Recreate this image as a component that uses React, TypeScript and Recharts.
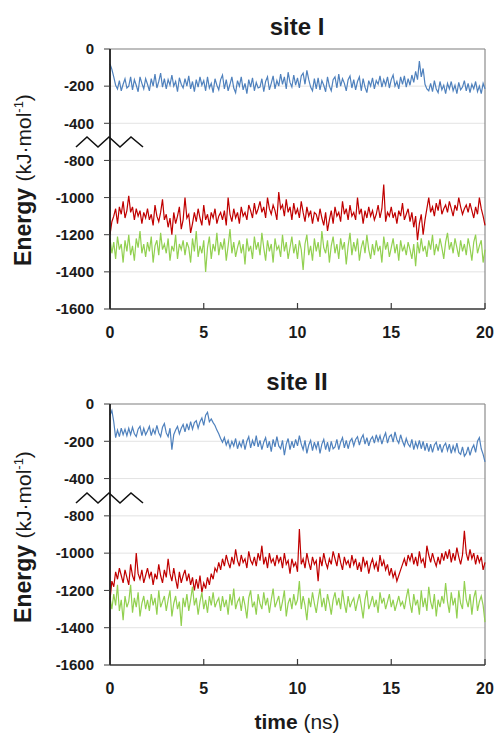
import { LineChart, Line, XAxis, YAxis, CartesianGrid, ReferenceLine } from 'recharts';

// sampling grid, 0.1 ns steps over 20 ns
const time = Array.from({ length: 201 }, (_, i) => i / 10);

const xTicks = [0, 5, 10, 15, 20];
// evenly spaced positions on the broken axis (-600 is cut out)
const yTicks = [0, -200, -400, -600, -800, -1000, -1200, -1400];

// site I
const site1Blue = [
  -80, -110, -150, -195, -215, -170, -225, -190, -160, -210,
  -200, -150, -220, -165, -195, -230, -150, -185, -215, -160,
  -190, -225, -160, -200, -135, -210, -175, -130, -205, -160,
  -215, -165, -195, -140, -200, -175, -230, -155, -190, -210,
  -160, -200, -145, -215, -175, -230, -165, -205, -150, -195,
  -170, -225, -150, -210, -185, -235, -160, -195, -220, -165,
  -140, -215, -165, -225, -190, -150, -210, -235, -170, -200,
  -150, -220, -185, -240, -165, -205, -155, -225, -180, -210,
  -205, -160, -230, -175, -150, -220, -185, -145, -215, -170,
  -200, -135, -190, -150, -215, -125, -180, -205, -140, -195,
  -155, -210, -145, -130, -190, -115, -165, -205, -225, -160,
  -215, -155, -220, -170, -195, -230, -150, -200, -225, -165,
  -150, -210, -135, -200, -160, -185, -225, -165, -145, -210,
  -165, -220, -175, -150, -225, -160, -205, -235, -170, -200,
  -155, -215, -170, -190, -145, -205, -165, -195, -150, -210,
  -165, -140, -200, -175, -215, -150, -190, -145, -205, -160,
  -195, -140, -180, -120, -165, -65, -150, -105, -190, -215,
  -225, -185, -230, -170, -215, -235, -175, -220, -195, -240,
  -185, -215, -175, -225, -195, -240, -180, -220, -205, -170,
  -225, -185, -235, -190, -215, -175, -230, -200, -240, -185,
  -215,
];

const site1Red = [
  -1200, -1130, -1100, -1060, -1140, -1050, -1090, -1020, -1110, -1070,
  -990, -1080, -1050, -1120, -1060, -1100, -1070, -1140, -1080, -1110,
  -1060, -1120, -1090, -1150, -1040, -1100, -1130, -1080, -1010, -1120,
  -1090, -1160, -1110, -1200, -1080, -1140, -1100, -1050, -1170, -1120,
  -1000, -1110, -1090, -1190, -1140, -1080, -1130, -1060, -1110, -1150,
  -1040, -1120, -1090, -1150, -1080, -1110, -1060, -1140, -1100, -1080,
  -1120, -1070, -1150, -1000, -1090, -1130, -1060, -1110, -1080, -1140,
  -1050, -1100, -1080, -1120, -1040, -1070, -1110, -1030, -1090, -1060,
  -1020, -1080, -1050, -1110, -1000, -1060, -1090, -1040, -1070, -1120,
  -970, -1060, -1040, -1100, -1010, -1080, -1050, -1120, -1030, -1090,
  -1060, -1110, -1020, -1080, -1130, -1050, -1100, -1070, -1140, -1080,
  -1090, -1130, -1060, -1110, -1150, -1080, -1180, -1120, -1070, -1140,
  -1050, -1100, -1080, -1130, -1020, -1090, -1060, -1120, -1040, -1100,
  -1080, -1120, -1000, -1090, -1060, -1140, -1070, -1110, -1050, -1100,
  -1070, -1120, -1090, -1040, -1110, -1060, -930, -1130, -1080, -1100,
  -1050, -1110, -1080, -1140, -1070, -1100, -1030, -1120, -1090, -1060,
  -1130, -1080, -1160, -1100, -1230, -1140, -1090, -1200, -1120, -1060,
  -1000, -1080, -1050, -1100, -1030, -1070, -1010, -1090, -1060, -1040,
  -1080, -1020, -1060, -1100, -1040, -1070, -1000, -1050, -1090, -1060,
  -1040, -1080, -1030, -1070, -1110, -1050, -1090, -1000, -1060, -1100,
  -1150,
];

const site1Green = [
  -1220, -1300, -1240, -1330, -1210, -1280, -1250, -1350, -1230, -1290,
  -1200, -1310, -1260, -1340, -1220, -1270, -1180, -1300, -1250, -1320,
  -1240, -1290, -1210, -1350, -1260, -1230, -1310, -1190, -1280, -1250,
  -1300, -1220, -1340, -1260, -1290, -1200, -1330, -1250, -1280, -1230,
  -1310, -1240, -1270, -1350, -1220, -1290, -1180, -1320, -1260, -1300,
  -1230, -1400, -1270, -1210, -1330, -1250, -1290, -1190, -1310, -1240,
  -1280, -1220, -1340, -1260, -1170, -1300, -1240, -1320, -1270, -1230,
  -1300, -1250, -1360, -1220, -1290, -1260, -1330, -1210, -1280, -1240,
  -1310, -1190, -1270, -1340, -1230, -1290, -1250, -1350, -1220, -1280,
  -1260, -1320, -1200, -1290, -1240, -1330, -1270, -1210, -1300, -1250,
  -1330, -1230, -1280, -1390, -1250, -1200, -1310, -1260, -1340, -1220,
  -1290, -1240, -1320, -1180, -1270, -1300, -1230, -1350, -1260, -1210,
  -1300, -1250, -1330, -1220, -1280, -1240, -1360, -1260, -1190, -1310,
  -1240, -1290, -1220, -1340, -1270, -1230, -1300, -1200, -1280, -1330,
  -1250, -1310, -1230, -1290, -1260, -1350, -1210, -1280, -1240, -1320,
  -1270, -1220, -1300, -1250, -1340, -1230, -1290, -1260, -1310, -1240,
  -1280, -1330, -1250, -1370, -1240, -1300, -1220, -1290, -1260, -1320,
  -1230, -1280, -1200, -1310, -1250, -1290, -1220, -1270, -1330, -1240,
  -1190, -1280, -1240, -1300, -1220, -1270, -1320, -1230, -1290, -1250,
  -1310, -1220, -1270, -1340, -1240, -1200, -1300, -1260, -1230, -1350,
  -1280,
];

// site II
const site2Blue = [
  -60, -35, -95, -180, -140, -175, -130, -165, -135, -170,
  -130, -165, -125, -160, -175, -135, -120, -170, -130, -165,
  -145, -120, -170, -135, -160, -115, -155, -175, -125, -105,
  -155, -175, -130, -245, -165, -140, -120, -160, -130, -110,
  -150, -105, -140, -95, -135, -100, -90, -130, -95, -75,
  -115, -60, -45, -95, -80, -100, -115, -140, -160, -185,
  -205, -180, -220, -195, -235, -200, -225, -185, -240, -205,
  -230, -190, -245, -200, -175, -235, -195, -225, -170, -230,
  -195, -245, -205, -180, -235, -200, -255, -190, -230, -175,
  -225, -240, -195, -275, -215, -185, -245, -200, -235, -190,
  -225, -170, -215, -245, -195, -265, -220, -195, -250, -205,
  -240, -200, -265, -215, -190, -245, -205, -255, -200, -240,
  -230, -190, -245, -205, -180, -235, -195, -240, -200, -185,
  -225, -190, -175, -220, -185, -165, -215, -180, -225, -190,
  -175, -210, -165, -200, -170, -215, -180, -155, -210, -175,
  -165, -205, -150, -190, -210, -165, -200, -225, -185, -215,
  -230, -190, -245, -205, -235, -195, -240, -200, -250, -210,
  -255, -215, -260, -220, -205, -250, -215, -260, -225, -210,
  -250, -215, -265, -225, -255, -210, -260, -270, -230, -280,
  -265, -230, -275, -240, -220, -260, -200, -180, -240, -270,
  -310,
];

const site2Red = [
  -1250, -1150, -1180, -1100, -1140, -1080, -1120, -1160, -1090, -1130,
  -1170, -1060, -1120, -1150, -1000, -1110, -1140, -1090, -1160, -1120,
  -1080, -1130, -1100, -1170, -1110, -1140, -1060, -1120, -1160, -1090,
  -1130, -1030, -1110, -1150, -1080, -1140, -1190, -1100, -1160, -1120,
  -1090, -1150, -1110, -1170, -1130, -1200, -1140, -1190, -1120, -1210,
  -1160, -1190, -1130, -1170, -1110, -1140, -1080, -1100, -1050, -1090,
  -1030, -1070, -1010, -1050, -1080, -1020, -1060, -980, -1040, -1070,
  -1010, -1050, -1030, -1080, -990, -1040, -1060, -1020, -1070, -1000,
  -1040, -960, -1060, -1020, -1080, -1000, -1050, -1030, -1070, -1010,
  -1050, -1020, -1080, -1000, -1060, -1040, -1110, -1030, -1070, -1050,
  -1100, -870, -1060, -1030, -1080, -1000, -1050, -1090, -1020, -1060,
  -1040, -1150, -1020, -1070, -1000, -1050, -1080, -1030, -1060, -990,
  -1030, -1070, -1000, -1050, -1090, -1020, -1060, -1040, -1080, -1010,
  -1060, -1030, -1090, -1050, -1100, -1020, -1070, -1040, -1110, -1060,
  -1030, -1080, -1050, -1100, -1010, -1070, -1040, -1090, -1060, -1120,
  -1080, -1130, -1100, -1150, -1120, -1090, -1060, -1030, -1070, -1010,
  -1040, -1000, -1060, -1020, -1070, -990, -1050, -1030, -1080, -960,
  -1010, -1050, -1000, -1040, -1070, -1020, -1060, -1000, -1040, -990,
  -1030, -980, -1050, -1000, -1040, -970, -1020, -1060, -1010, -880,
  -1000, -1040, -980, -1030, -1000, -1060, -1010, -1050, -1020, -1090,
  -1050,
];

const site2Green = [
  -1240, -1300, -1220, -1280, -1170, -1310, -1250, -1360, -1230, -1290,
  -1260, -1170, -1320, -1240, -1290, -1210, -1340, -1270, -1230, -1300,
  -1250, -1310, -1220, -1280, -1240, -1330, -1200, -1290, -1260, -1230,
  -1310, -1250, -1200, -1340, -1270, -1230, -1300, -1260, -1390, -1240,
  -1290, -1220, -1310, -1250, -1180, -1280, -1240, -1330, -1260, -1210,
  -1300, -1250, -1320, -1230, -1280, -1210, -1290, -1260, -1240, -1310,
  -1230, -1290, -1250, -1330, -1220, -1280, -1190, -1300, -1260, -1240,
  -1310, -1230, -1280, -1350, -1240, -1200, -1290, -1260, -1330, -1220,
  -1270, -1300, -1210, -1280, -1240, -1320, -1250, -1190, -1290, -1260,
  -1230, -1310, -1260, -1200, -1340, -1270, -1240, -1300, -1220, -1280,
  -1250, -1150, -1300, -1230, -1280, -1360, -1240, -1290, -1210, -1270,
  -1320, -1250, -1190, -1290, -1240, -1310, -1220, -1270, -1330, -1250,
  -1210, -1280, -1240, -1300, -1200, -1270, -1320, -1230, -1290, -1260,
  -1240, -1310, -1260, -1220, -1280, -1350, -1250, -1200, -1300, -1270,
  -1230, -1290, -1250, -1320, -1210, -1270, -1240, -1300, -1260, -1220,
  -1290, -1250, -1310, -1270, -1230, -1280, -1260, -1300, -1240, -1190,
  -1270, -1320, -1220, -1280, -1250, -1330, -1200, -1290, -1240, -1310,
  -1180, -1260, -1300, -1220, -1340, -1250, -1290, -1230, -1270, -1160,
  -1260, -1320, -1210, -1280, -1240, -1350, -1200, -1270, -1300, -1150,
  -1250, -1290, -1220, -1330, -1240, -1200, -1310, -1260, -1230, -1280,
  -1370,
];

// the axis skips -400..-800: everything below the break is shifted up by 200
const toAxis = (v: number) => (v > -500 ? v : v + 200);
const tickText = (v: number) => String(v > -500 ? v : v - 200);

const buildRows = (blue: number[], red: number[], green: number[]) =>
  time.map((t, i) => ({ t, blue: toAxis(blue[i]), red: toAxis(red[i]), green: toAxis(green[i]) }));

const rows1 = buildRows(site1Blue, site1Red, site1Green);
const rows2 = buildRows(site2Blue, site2Red, site2Green);

const FONT = '"Liberation Sans", Arial, sans-serif';
const AXIS = '#3a3a3a';

const XTick = ({ x, y, payload }: any) => (
  <g>
    <line x1={x} x2={x} y1={y} y2={y - 6} stroke={AXIS} strokeWidth={1.2} />
    <text x={x} y={y + 29} textAnchor="middle" fontSize={16} fontWeight="bold" fill="#1a1a1a" fontFamily={FONT}>
      {payload.value}
    </text>
  </g>
);

const Panel = ({ rows, height, bottom }: { rows: any[]; height: number; bottom: number }) => (
  <LineChart width={496} height={height} data={rows} margin={{ top: 49, right: 11, bottom, left: 50 }}>
    <CartesianGrid horizontal vertical={false} stroke="#e3e3e3" />
    <XAxis
      dataKey="t"
      type="number"
      domain={[0, 20]}
      ticks={xTicks}
      interval={0}
      height={30}
      tickLine={false}
      tickSize={0}
      tickMargin={0}
      tick={<XTick />}
      axisLine={{ stroke: AXIS, strokeWidth: 1.5 }}
    />
    <YAxis
      type="number"
      domain={[-1400, 0]}
      ticks={yTicks}
      interval={0}
      width={60}
      tickSize={6}
      tickMargin={10}
      tickFormatter={tickText}
      tick={{ fontSize: 15, fontWeight: 'bold', fill: '#1a1a1a', fontFamily: FONT }}
      tickLine={{ stroke: AXIS }}
      axisLine={{ stroke: '#1a1a1a', strokeWidth: 1.8 }}
    />
    <ReferenceLine y={0} stroke="#8c8c8c" strokeWidth={1.2} />
    <ReferenceLine x={20} stroke="#8c8c8c" strokeWidth={1.2} />
    <Line dataKey="blue" stroke="#4F81BD" strokeWidth={1.2} dot={false} isAnimationActive={false} />
    <Line dataKey="red" stroke="#C00000" strokeWidth={1.2} dot={false} isAnimationActive={false} />
    <Line dataKey="green" stroke="#92D050" strokeWidth={1.2} dot={false} isAnimationActive={false} />
  </LineChart>
);

const YLabel = ({ cx, cy }: { cx: number; cy: number }) => (
  <text transform={`translate(${cx},${cy}) rotate(-90)`} textAnchor="middle" fill="#1a1a1a" fontFamily={FONT}>
    <tspan fontSize={23} fontWeight="bold">Energy </tspan>
    <tspan fontSize={21}>(kJ·mol</tspan>
    <tspan fontSize={13} dy={-8}>-1</tspan>
    <tspan fontSize={21} dy={8}>)</tspan>
  </text>
);

const zigzag = (y: number) =>
  [76, 87, 98, 109, 120, 131, 143].map((x, i) => `${x},${i % 2 === 0 ? y + 5 : y - 5}`).join(' ');

export default function App() {
  return (
    <div style={{ position: 'absolute', left: 0, top: 0, width: 496, height: 734, background: '#fff', fontFamily: FONT }}>
      <div style={{ position: 'absolute', left: 0, top: 0 }}>
        <Panel rows={rows1} height={350} bottom={11} />
      </div>
      <div style={{ position: 'absolute', left: 0, top: 355 }}>
        <Panel rows={rows2} height={379} bottom={39} />
      </div>
      <svg width={496} height={734} style={{ position: 'absolute', left: 0, top: 0, pointerEvents: 'none' }}>
        <text x={297} y={35} textAnchor="middle" fontSize={24} fontWeight="bold" fill="#1a1a1a" fontFamily={FONT}>
          site I
        </text>
        <text x={297} y={390} textAnchor="middle" fontSize={24} fontWeight="bold" fill="#1a1a1a" fontFamily={FONT}>
          site II
        </text>
        <YLabel cx={31} cy={180} />
        <YLabel cx={31} cy={537} />
        <polyline points={zigzag(142)} fill="none" stroke="#111" strokeWidth={1.6} />
        <polyline points={zigzag(498)} fill="none" stroke="#111" strokeWidth={1.6} />
        <text x={297} y={729} textAnchor="middle" fill="#1a1a1a" fontFamily={FONT} fontSize={21}>
          <tspan fontWeight="bold">time </tspan>
          <tspan>(ns)</tspan>
        </text>
      </svg>
    </div>
  );
}
